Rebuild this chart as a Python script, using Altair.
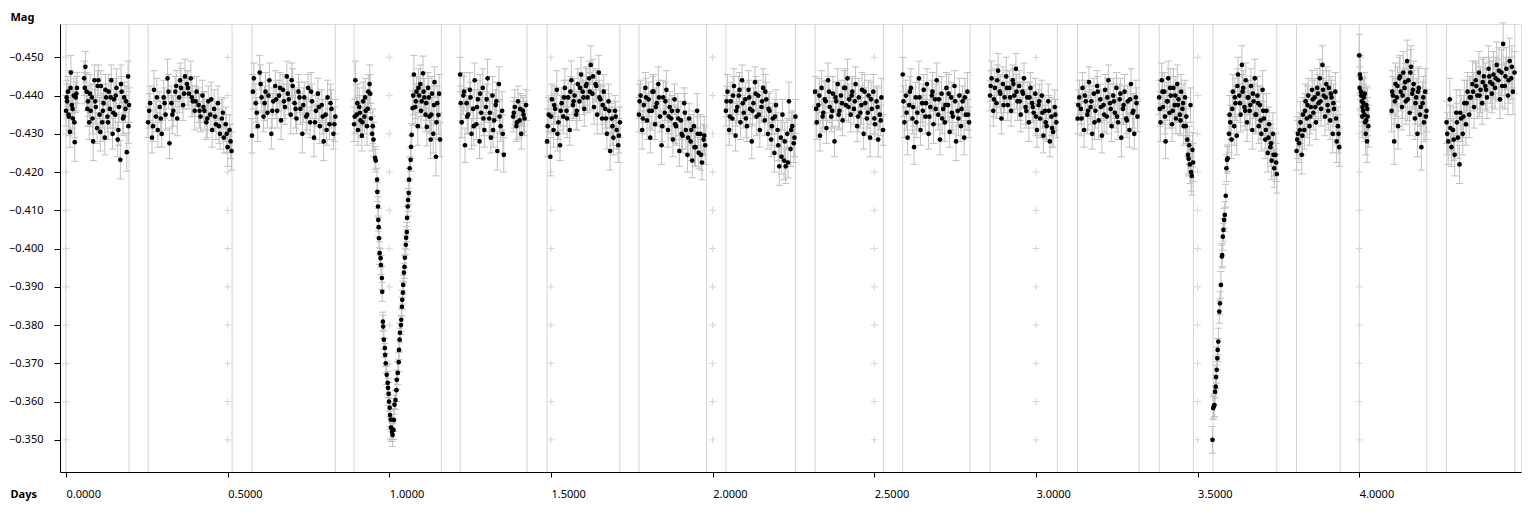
import altair as alt
import pandas as pd

# ---------------- data ----------------
# observation time (days), magnitude, error (mmag); one block per night
DAYS = [
    # night 1
    0.000,0.003,0.006,0.009,0.012,0.015,0.018,0.021,0.024,0.027,0.030,0.034,
    0.056,0.060,0.064,0.068,0.072,0.076,0.080,0.084,0.088,0.092,0.096,0.100,
    0.104,0.108,0.112,0.116,0.120,0.124,0.128,0.132,0.136,0.140,0.144,0.148,
    0.152,0.156,0.160,0.164,0.168,0.172,0.176,0.180,0.184,0.188,0.192,0.195,
    # night 2
    0.254,0.260,0.266,0.272,0.278,0.284,0.290,0.296,0.302,0.308,0.314,0.320,
    0.326,0.332,0.338,0.344,0.350,0.356,0.362,0.368,0.374,0.380,0.386,0.392,
    0.398,0.404,0.410,0.416,0.422,0.428,0.434,0.440,0.446,0.452,0.458,0.464,
    0.470,0.476,0.482,0.488,0.494,0.500,0.506,0.512,
    # night 3
    0.575,0.581,0.587,0.593,0.599,0.605,0.611,0.617,0.623,0.629,0.635,0.641,
    0.647,0.653,0.659,0.665,0.671,0.677,0.683,0.689,0.695,0.701,0.707,0.713,
    0.719,0.725,0.731,0.737,0.743,0.749,0.755,0.761,0.767,0.773,0.779,0.785,
    0.791,0.797,0.803,0.809,0.815,0.821,0.827,0.833,
    # night 4 (primary eclipse)
    0.891,0.895,0.899,0.903,0.907,0.911,0.915,0.919,0.923,0.927,0.931,0.935,
    0.939,0.943,0.947,0.951,
    0.956,0.958,0.962,0.963,0.965,0.966,0.967,0.968,0.970,0.973,0.974,0.977,
    0.978,0.980,0.981,0.983,0.986,0.987,0.989,0.992,0.995,0.996,0.998,0.999,
    1.001,1.002,1.004,1.005,1.008,1.010,1.013,1.014,1.016,1.019,1.022,1.023,
    1.026,1.029,1.030,1.032,1.033,1.036,1.037,1.039,1.040,1.042,1.043,1.045,
    1.047,1.048,1.051,1.052,1.054,1.055,1.057,1.058,1.060,1.061,1.063,1.066,
    1.067,1.069,
    1.072,1.076,1.080,1.084,1.088,1.092,1.096,1.100,1.104,1.108,1.112,1.116,
    1.120,1.124,1.128,1.132,1.136,1.140,1.144,1.148,1.152,1.157,
    # night 5
    1.219,1.224,1.229,1.234,1.239,1.244,1.249,1.254,1.259,1.264,1.269,1.274,
    1.279,1.284,1.289,1.294,1.299,1.304,1.309,1.314,1.319,1.324,1.329,1.334,
    1.339,1.344,1.349,1.354,
    1.383,1.388,1.393,1.398,1.403,1.408,1.413,1.418,1.423,
    # night 6
    1.488,1.493,1.498,1.503,1.508,1.513,1.518,1.523,1.528,1.533,1.538,1.543,
    1.548,1.553,1.558,1.563,1.568,1.573,1.578,1.583,1.588,1.593,1.598,1.603,
    1.608,1.613,1.618,1.623,1.628,1.633,1.638,1.643,1.648,1.653,1.658,1.663,
    1.668,1.673,1.678,1.683,1.688,1.693,1.698,1.703,1.708,1.713,
    # night 7
    1.772,1.777,1.782,1.787,1.792,1.797,1.802,1.807,1.812,1.817,1.822,1.827,
    1.832,1.837,1.842,1.847,1.852,1.857,1.862,1.867,1.872,1.877,1.882,1.887,
    1.892,1.897,1.902,1.907,1.912,1.917,1.922,1.927,1.932,1.937,1.942,1.947,
    1.952,1.957,1.962,1.967,1.972,1.977,
    # night 8
    2.041,2.046,2.051,2.056,2.061,2.066,2.071,2.076,2.081,2.086,2.091,2.096,
    2.101,2.106,2.111,2.116,2.121,2.126,2.131,2.136,2.141,2.146,2.151,2.156,
    2.161,2.166,2.171,2.176,2.181,2.186,2.191,2.196,2.201,2.206,2.211,2.216,
    2.221,2.226,2.231,2.236,2.241,2.246,2.251,2.256,
    # night 9
    2.317,2.322,2.327,2.332,2.337,2.342,2.347,2.352,2.357,2.362,2.367,2.372,
    2.377,2.382,2.387,2.392,2.397,2.402,2.407,2.412,2.417,2.422,2.427,2.432,
    2.437,2.442,2.447,2.452,2.457,2.462,2.467,2.472,2.477,2.482,2.487,2.492,
    2.497,2.502,2.507,2.512,2.517,2.522,2.527,
    # night 10
    2.588,2.593,2.598,2.603,2.608,2.613,2.618,2.623,2.628,2.633,2.638,2.643,
    2.648,2.653,2.658,2.663,2.668,2.673,2.678,2.683,2.688,2.693,2.698,2.703,
    2.708,2.713,2.718,2.723,2.728,2.733,2.738,2.743,2.748,2.753,2.758,2.763,
    2.768,2.773,2.778,2.783,2.788,2.793,
    # night 11
    2.858,2.863,2.868,2.873,2.878,2.883,2.888,2.893,2.898,2.903,2.908,2.913,
    2.918,2.923,2.928,2.933,2.938,2.943,2.948,2.953,2.958,2.963,2.968,2.973,
    2.978,2.983,2.988,2.993,2.998,3.003,3.008,3.013,3.018,3.023,3.028,3.033,
    3.038,3.043,3.048,3.053,3.058,3.063,
    # night 12
    3.129,3.134,3.139,3.144,3.149,3.154,3.159,3.164,3.169,3.174,3.179,3.184,
    3.189,3.194,3.199,3.204,3.209,3.214,3.219,3.224,3.229,3.234,3.239,3.244,
    3.249,3.254,3.259,3.264,3.269,3.274,3.279,3.284,3.289,3.294,3.299,3.304,
    3.309,3.314,
    # night 13 (ingress at the end)
    3.381,3.385,3.389,3.393,3.397,3.401,3.405,3.409,3.413,3.417,3.421,3.425,
    3.429,3.433,3.437,3.441,3.445,3.449,3.453,3.457,3.461,3.465,
    3.468,3.470,3.472,3.474,3.476,3.478,3.480,3.482,3.484,3.486,
    # night 14 (egress at the start)
    3.546,3.548,3.550,3.552,3.554,3.556,3.557,3.559,3.561,3.562,3.564,3.567,
    3.569,3.572,3.575,3.576,3.578,3.580,3.582,3.584,3.587,3.589,3.591,3.593,
    3.597,3.601,3.605,3.609,3.613,3.617,3.621,3.625,3.629,3.633,3.637,3.641,
    3.645,3.649,3.653,3.657,3.661,3.665,3.669,3.673,3.677,3.681,3.685,3.689,
    3.693,3.697,3.701,3.705,3.709,3.713,3.717,3.721,3.725,3.729,3.733,3.737,
    3.741,3.745,
    # night 15
    3.806,3.810,3.814,3.818,3.822,3.826,3.830,3.834,3.838,3.842,3.846,3.850,
    3.854,3.858,3.862,3.866,3.870,3.874,3.878,3.882,3.886,3.890,3.894,3.898,
    3.902,3.906,3.910,3.914,3.918,3.922,3.926,3.930,3.934,3.938,
    # night 16
    4.000,4.002,4.004,4.006,4.008,4.010,4.012,4.014,4.016,4.018,4.020,4.022,
    4.024,4.026,4.028,
    4.100,4.104,4.108,4.112,4.116,4.120,4.124,4.128,4.132,4.136,4.140,4.144,
    4.148,4.152,4.156,4.160,4.164,4.168,4.172,4.176,4.180,4.184,4.188,4.192,
    4.196,4.200,4.204,4.208,
    # night 17
    4.270,4.275,4.280,4.285,4.290,4.295,4.300,4.305,4.310,4.315,4.320,4.325,
    4.330,4.335,4.340,4.345,4.350,4.355,4.360,4.365,4.370,4.375,4.380,4.385,
    4.390,4.395,4.400,4.405,4.410,4.415,4.420,4.425,4.430,4.435,4.440,4.445,
    4.450,4.455,4.460,4.465,4.470,4.475,4.480,
]

MAG = [
    # night 1
    -0.4360,-0.4385,-0.4410,-0.4345,-0.4305,-0.4460,-0.4375,-0.4340,-0.4400,-0.4278,-0.4395,-0.4420,
    -0.4445,-0.4475,-0.4410,-0.4385,-0.4330,-0.4360,-0.4395,-0.4280,-0.4440,-0.4370,-0.4315,-0.4440,
    -0.4350,-0.4425,-0.4330,-0.4380,-0.4290,-0.4395,-0.4345,-0.4410,-0.4365,-0.4440,-0.4300,-0.4390,
    -0.4350,-0.4420,-0.4285,-0.4370,-0.4232,-0.4410,-0.4340,-0.4395,-0.4365,-0.4252,-0.4450,-0.4375,
    # night 2
    -0.4330,-0.4380,-0.4290,-0.4415,-0.4345,-0.4310,-0.4370,-0.4300,-0.4395,-0.4350,-0.4445,-0.4275,
    -0.4380,-0.4360,-0.4410,-0.4340,-0.4395,-0.4420,-0.4375,-0.4450,-0.4430,-0.4405,-0.4445,-0.4385,
    -0.4360,-0.4410,-0.4375,-0.4345,-0.4400,-0.4360,-0.4330,-0.4385,-0.4350,-0.4310,-0.4365,-0.4325,
    -0.4380,-0.4300,-0.4340,-0.4290,-0.4325,-0.4265,-0.4310,-0.4255,
    # night 3
    -0.4295,-0.4445,-0.4380,-0.4320,-0.4460,-0.4395,-0.4345,-0.4410,-0.4355,-0.4440,-0.4300,-0.4385,
    -0.4425,-0.4360,-0.4400,-0.4335,-0.4415,-0.4370,-0.4450,-0.4390,-0.4350,-0.4425,-0.4380,-0.4340,
    -0.4410,-0.4365,-0.4300,-0.4395,-0.4345,-0.4420,-0.4330,-0.4385,-0.4290,-0.4360,-0.4405,-0.4320,
    -0.4375,-0.4280,-0.4350,-0.4395,-0.4325,-0.4365,-0.4300,-0.4345,
    # night 4
    -0.4325,-0.4440,-0.4350,-0.4310,-0.4370,-0.4335,-0.4295,-0.4385,-0.4345,-0.4360,-0.4320,-0.4410,
    -0.4430,-0.4340,-0.4300,-0.4285,
    -0.4237,-0.4230,-0.4180,-0.4148,-0.4110,-0.4075,-0.4056,-0.4027,-0.3988,-0.3975,-0.3957,-0.3923,
    -0.3887,-0.3809,-0.3796,-0.3762,-0.3740,-0.3722,-0.3700,-0.3670,-0.3649,-0.3636,-0.3620,-0.3600,
    -0.3584,-0.3565,-0.3553,-0.3532,-0.3521,-0.3513,-0.3526,-0.3552,-0.3592,-0.3604,-0.3630,-0.3657,
    -0.3675,-0.3703,-0.3735,-0.3762,-0.3780,-0.3800,-0.3814,-0.3848,-0.3866,-0.3885,-0.3905,-0.3937,
    -0.3952,-0.3976,-0.4010,-0.4028,-0.4043,-0.4080,-0.4110,-0.4127,-0.4145,-0.4180,-0.4210,-0.4232,
    -0.4266,-0.4297,
    -0.4367,-0.4455,-0.4370,-0.4410,-0.4320,-0.4400,-0.4430,-0.4385,-0.4458,-0.4395,-0.4350,-0.4318,
    -0.4420,-0.4345,-0.4285,-0.4405,-0.4300,-0.4435,-0.4240,-0.4380,-0.4349,-0.4285,
    # night 5
    -0.4455,-0.4330,-0.4400,-0.4270,-0.4380,-0.4350,-0.4415,-0.4300,-0.4365,-0.4440,-0.4325,-0.4390,
    -0.4280,-0.4355,-0.4420,-0.4310,-0.4370,-0.4445,-0.4340,-0.4290,-0.4400,-0.4335,-0.4375,-0.4255,
    -0.4430,-0.4320,-0.4360,-0.4245,
    -0.4345,-0.4370,-0.4320,-0.4385,-0.4335,-0.4300,-0.4360,-0.4340,-0.4375,
    # night 6
    -0.4280,-0.4350,-0.4240,-0.4390,-0.4310,-0.4365,-0.4415,-0.4330,-0.4270,-0.4380,-0.4345,-0.4420,
    -0.4360,-0.4395,-0.4310,-0.4440,-0.4375,-0.4400,-0.4350,-0.4430,-0.4385,-0.4455,-0.4410,-0.4365,
    -0.4425,-0.4395,-0.4445,-0.4480,-0.4405,-0.4370,-0.4430,-0.4350,-0.4460,-0.4390,-0.4340,-0.4410,
    -0.4365,-0.4300,-0.4385,-0.4255,-0.4340,-0.4290,-0.4360,-0.4310,-0.4270,-0.4330,
    # night 7
    -0.4350,-0.4400,-0.4310,-0.4375,-0.4420,-0.4335,-0.4390,-0.4290,-0.4360,-0.4410,-0.4325,-0.4380,
    -0.4430,-0.4345,-0.4270,-0.4395,-0.4355,-0.4415,-0.4310,-0.4370,-0.4340,-0.4285,-0.4390,-0.4320,
    -0.4360,-0.4255,-0.4335,-0.4295,-0.4380,-0.4310,-0.4245,-0.4340,-0.4280,-0.4230,-0.4320,-0.4265,
    -0.4360,-0.4250,-0.4300,-0.4225,-0.4285,-0.4270,
    # night 8
    -0.4360,-0.4410,-0.4310,-0.4385,-0.4340,-0.4425,-0.4295,-0.4370,-0.4400,-0.4330,-0.4440,-0.4355,
    -0.4390,-0.4320,-0.4415,-0.4365,-0.4280,-0.4380,-0.4435,-0.4345,-0.4400,-0.4310,-0.4370,-0.4420,
    -0.4335,-0.4390,-0.4300,-0.4360,-0.4285,-0.4340,-0.4250,-0.4375,-0.4310,-0.4215,-0.4290,-0.4350,
    -0.4230,-0.4215,-0.4300,-0.4385,-0.4260,-0.4320,-0.4275,-0.4345,
    # night 9
    -0.4410,-0.4330,-0.4375,-0.4295,-0.4420,-0.4355,-0.4390,-0.4315,-0.4440,-0.4370,-0.4345,-0.4405,
    -0.4280,-0.4385,-0.4430,-0.4360,-0.4400,-0.4335,-0.4420,-0.4375,-0.4445,-0.4390,-0.4350,-0.4410,
    -0.4365,-0.4430,-0.4320,-0.4395,-0.4355,-0.4415,-0.4300,-0.4380,-0.4340,-0.4400,-0.4290,-0.4365,
    -0.4410,-0.4325,-0.4385,-0.4285,-0.4350,-0.4395,-0.4310,
    # night 10
    -0.4455,-0.4330,-0.4400,-0.4290,-0.4375,-0.4420,-0.4340,-0.4265,-0.4395,-0.4355,-0.4445,-0.4310,
    -0.4380,-0.4415,-0.4345,-0.4430,-0.4300,-0.4370,-0.4400,-0.4325,-0.4390,-0.4440,-0.4350,-0.4285,
    -0.4405,-0.4365,-0.4330,-0.4420,-0.4375,-0.4305,-0.4395,-0.4345,-0.4425,-0.4280,-0.4360,-0.4400,
    -0.4320,-0.4385,-0.4290,-0.4350,-0.4410,-0.4330,
    # night 11
    -0.4400,-0.4445,-0.4360,-0.4420,-0.4380,-0.4465,-0.4410,-0.4340,-0.4430,-0.4395,-0.4450,-0.4375,
    -0.4420,-0.4360,-0.4440,-0.4400,-0.4470,-0.4385,-0.4425,-0.4350,-0.4410,-0.4445,-0.4370,-0.4395,
    -0.4330,-0.4420,-0.4380,-0.4355,-0.4405,-0.4310,-0.4375,-0.4340,-0.4400,-0.4295,-0.4360,-0.4320,
    -0.4385,-0.4280,-0.4345,-0.4305,-0.4370,-0.4330,
    # night 12
    -0.4340,-0.4395,-0.4365,-0.4420,-0.4310,-0.4385,-0.4350,-0.4435,-0.4370,-0.4300,-0.4405,-0.4360,
    -0.4425,-0.4335,-0.4390,-0.4295,-0.4375,-0.4415,-0.4345,-0.4440,-0.4380,-0.4320,-0.4400,-0.4355,
    -0.4420,-0.4330,-0.4390,-0.4290,-0.4365,-0.4410,-0.4340,-0.4385,-0.4310,-0.4430,-0.4355,-0.4300,
    -0.4395,-0.4345,
    # night 13
    -0.4395,-0.4330,-0.4440,-0.4370,-0.4410,-0.4280,-0.4385,-0.4445,-0.4355,-0.4400,-0.4325,-0.4420,
    -0.4375,-0.4340,-0.4430,-0.4390,-0.4350,-0.4410,-0.4365,-0.4320,-0.4395,-0.4345,
    -0.4285,-0.4245,-0.4235,-0.4270,-0.4220,-0.4375,-0.4200,-0.4190,-0.4258,-0.4225,
    # night 14
    -0.3500,-0.3583,-0.3587,-0.3591,-0.3626,-0.3639,-0.3664,-0.3683,-0.3713,-0.3735,-0.3757,-0.3835,
    -0.3857,-0.3905,-0.3979,-0.3983,-0.4031,-0.4049,-0.4075,-0.4088,-0.4138,-0.4210,-0.4232,-0.4236,
    -0.4300,-0.4330,-0.4285,-0.4410,-0.4320,-0.4380,-0.4295,-0.4455,-0.4400,-0.4350,-0.4480,-0.4420,
    -0.4370,-0.4440,-0.4330,-0.4395,-0.4360,-0.4425,-0.4310,-0.4385,-0.4445,-0.4350,-0.4400,-0.4320,
    -0.4375,-0.4300,-0.4415,-0.4340,-0.4285,-0.4360,-0.4250,-0.4325,-0.4265,-0.4230,-0.4300,-0.4210,
    -0.4245,-0.4195,
    # night 15
    -0.4255,-0.4300,-0.4275,-0.4330,-0.4245,-0.4350,-0.4310,-0.4385,-0.4340,-0.4400,-0.4320,-0.4370,
    -0.4415,-0.4355,-0.4395,-0.4330,-0.4420,-0.4380,-0.4445,-0.4365,-0.4480,-0.4400,-0.4345,-0.4430,
    -0.4375,-0.4420,-0.4335,-0.4395,-0.4300,-0.4365,-0.4410,-0.4280,-0.4320,-0.4265,
    # night 16
    -0.4505,-0.4455,-0.4445,-0.4400,-0.4385,-0.4370,-0.4360,-0.4395,-0.4350,-0.4330,-0.4300,-0.4375,
    -0.4280,-0.4345,-0.4320,
    -0.4360,-0.4400,-0.4280,-0.4430,-0.4395,-0.4320,-0.4445,-0.4410,-0.4370,-0.4460,-0.4420,-0.4385,
    -0.4490,-0.4440,-0.4355,-0.4475,-0.4405,-0.4430,-0.4340,-0.4395,-0.4300,-0.4420,-0.4350,-0.4265,
    -0.4380,-0.4330,-0.4410,-0.4360,
    # night 17
    -0.4330,-0.4280,-0.4390,-0.4265,-0.4310,-0.4245,-0.4355,-0.4290,-0.4220,-0.4340,-0.4300,-0.4380,
    -0.4325,-0.4410,-0.4350,-0.4395,-0.4430,-0.4370,-0.4440,-0.4400,-0.4460,-0.4415,-0.4380,-0.4450,
    -0.4425,-0.4395,-0.4470,-0.4435,-0.4405,-0.4455,-0.4420,-0.4480,-0.4440,-0.4390,-0.4460,-0.4535,
    -0.4425,-0.4470,-0.4400,-0.4490,-0.4445,-0.4410,-0.4460,
]

ERR_MMAG = [
    # night 1
    4,4.5,4,5,4,4.5,3.5,4,4.5,5,4,4,
    4.5,4,5,4,4.5,4,3.5,5,4,4.5,4,4,
    4.5,4,5,4,4.5,3.5,4,4.5,5,4,4,4.5,
    4,5,4.5,4,5,4,4.5,4,3.5,5,4,4.5,
    # night 2
    4,4.5,4,5,4,4.5,4,3.5,4.5,4,5,4,
    4.5,4,4,4.5,4,5,4,4.5,3.5,4,4.5,4,
    5,4,4.5,4,4,5,4.5,4,4,4.5,5,4,
    4.5,4,5,4,4.5,5,4,5,
    # night 3
    4.5,4,5,4,4.5,4,4,5,4,4.5,4,3.5,
    4,4.5,4,5,4,4.5,4,4,5,4.5,4,4,
    4.5,4,5,4,4.5,3.5,4,4.5,5,4,4,4.5,
    4,5,4,4.5,4,5,4,4.5,
    # night 4
    4.5,5,4.5,4,5,4.5,4,5,4.5,4,5,4.5,
    5,4,4.5,4.5,
    3,3,3,2.5,2.5,3,2.5,2.5,3,2.5,2.5,3,
    2.5,2.5,3,2.5,2.5,3,2.5,2.5,3,2.5,3,2.5,
    2.5,3,2.5,3,2.5,3,2.5,3,2.5,2.5,3,2.5,
    3,2.5,2.5,3,2.5,2.5,3,2.5,2.5,3,2.5,2.5,
    3,2.5,2.5,3,2.5,3,2.5,3,3,3,3,3,
    3,3,
    4.5,5,4.5,4,5,4.5,5,4,4.5,5,4.5,5,
    4,4.5,5,4.5,5,4,5,4.5,5,4.5,
    # night 5
    4.5,4,5,4.5,4,5,4.5,4,5,4.5,4,5,
    4.5,4,5,4.5,4,5,4.5,4,5,4.5,4,5,
    4.5,4,5,4.5,
    4,4.5,4,4,4.5,4,4,4.5,4,
    # night 6
    4,4.5,5,4,4.5,4,5,4.5,4,4,4.5,5,
    4,4.5,4,5,4,4.5,4,4,5,4.5,4,4.5,
    5,4,4.5,5,4,4.5,4,5,4.5,4,4,4.5,
    5,4,4.5,5,4,4.5,4,5,4.5,4,
    # night 7
    4.5,4,5,4.5,4,5,4.5,4,5,4.5,4,5,
    4.5,4,5,4.5,4,5,4.5,4,5,4.5,4,5,
    4.5,4,5,4.5,4,5,4.5,4,5,4.5,4,5,
    4.5,4,5,4.5,4,5,
    # night 8
    4,4.5,4,5,4,4.5,4,4,5,4.5,4,4,
    4.5,4,5,4,4.5,4,4,5,4,4.5,4,5,
    4,4.5,4,5,4.5,4,5,4,4.5,5,4.5,4,
    5,4.5,4,5,4.5,4,5,4.5,
    # night 9
    4,4.5,4,4,4.5,4,5,4,4.5,4,4,4.5,
    4,5,4,4.5,4,4,4.5,4,5,4,4.5,4,
    4,4.5,4,5,4,4.5,4,4,4.5,4,5,4,
    4.5,4,4,4.5,4,5,4,
    # night 10
    4.5,4,4,4.5,4,5,4,4.5,4,4,4.5,4,
    5,4,4.5,4,4,4.5,4,5,4,4.5,4,4,
    4.5,4,5,4,4.5,4,4,4.5,4,5,4,4.5,
    4,4,4.5,4,5,4,
    # night 11
    4,4.5,4,5,4,4.5,4,4,4.5,4,5,4,
    4.5,4,4,4.5,4,5,4,4.5,4,4,4.5,4,
    5,4,4.5,4,4,4.5,4,5,4,4.5,4,4,
    4.5,4,5,4,4.5,4,
    # night 12
    4,4.5,4,4,4.5,4,5,4,4.5,4,4,4.5,
    4,5,4,4.5,4,4,4.5,4,5,4,4.5,4,
    4,4.5,4,5,4,4.5,4,4,4.5,4,5,4,
    4.5,4,
    # night 13
    4.5,5,4.5,4,5,4.5,5,4.5,4,5,4.5,5,
    4.5,4,5,4.5,5,4.5,4,5,4.5,5,
    4.5,5,4.5,5,5,4.5,5,5,4.5,5,
    # night 14
    3.5,3,3,3,3.5,3,3,3.5,3,3,3.5,3,
    3,3.5,3,3,3.5,3,3,3.5,3,3.5,3.5,3.5,
    5,4.5,5,4.5,5,4.5,5,4.5,5,4.5,5,4.5,
    5,4.5,5,4.5,5,4.5,5,4.5,5,4.5,5,4.5,
    5,4.5,5,4.5,5,4.5,5,4.5,5,5,5.5,5,
    5.5,5,
    # night 15
    5,4.5,5,5.5,5,4.5,5,4.5,5,4.5,5,4.5,
    5,4.5,5,4.5,5,4.5,5,4.5,5,4.5,5,4.5,
    5,4.5,5,4.5,5,4.5,5,5.5,5,5,
    # night 16
    5.5,5,5.5,5,5.5,5,5.5,5,5.5,5,5.5,5,
    5.5,5,5.5,
    5.5,5,6,5.5,5,6,5.5,5,6,5.5,5,6,
    5.5,5,6,5.5,5,6,5.5,5,6,5.5,5,6,
    5.5,5,6,5.5,
    # night 17
    5.5,6,5.5,5,6,5.5,6,5.5,5,6,5.5,6,
    5.5,5,6,5.5,6,5.5,5,6,5.5,6,5.5,5,
    6,5.5,6,5.5,5,6,5.5,6,5.5,5,6,5.5,
    6,5.5,5,6,5.5,6,5.5,
]

# further observations taken between the ones above (denser sampling)
DAYS_EXTRA = [
    0.002,0.008,0.014,0.020,0.026,0.032,
    0.058,0.066,0.074,0.082,0.090,0.098,0.106,0.114,0.122,0.130,0.138,0.146,
    0.154,0.162,0.170,0.178,0.186,0.193,
    0.257,0.269,0.281,0.293,0.305,0.317,0.329,0.341,0.353,0.365,0.377,0.389,
    0.401,0.413,0.425,0.437,0.449,0.461,0.473,0.485,0.497,0.509,
    0.578,0.590,0.602,0.614,0.626,0.638,0.650,0.662,0.674,0.686,0.698,0.710,
    0.722,0.734,0.746,0.758,0.770,0.782,0.794,0.806,0.818,0.830,
    0.893,0.901,0.909,0.917,0.925,0.933,0.941,0.949,
    1.074,1.082,1.090,1.098,1.106,1.114,1.122,1.130,1.138,1.146,1.154,
    1.221,1.231,1.241,1.251,1.261,1.271,1.281,1.291,1.301,1.311,1.321,1.331,
    1.341,1.351,1.385,1.395,1.405,1.415,
    1.490,1.500,1.510,1.520,1.530,1.540,1.550,1.560,1.570,1.580,1.590,1.600,
    1.610,1.620,1.630,1.640,1.650,1.660,1.670,1.680,1.690,1.700,1.710,
    1.774,1.784,1.794,1.804,1.814,1.824,1.834,1.844,1.854,1.864,1.874,1.884,
    1.894,1.904,1.914,1.924,1.934,1.944,1.954,1.964,1.974,
    2.043,2.053,2.063,2.073,2.083,2.093,2.103,2.113,2.123,2.133,2.143,2.153,
    2.163,2.173,2.183,2.193,2.203,2.213,2.223,2.233,2.243,2.253,
    2.320,2.330,2.340,2.350,2.360,2.370,2.380,2.390,2.400,2.410,2.420,2.430,
    2.440,2.450,2.460,2.470,2.480,2.490,2.500,2.510,2.520,
    2.590,2.600,2.610,2.620,2.630,2.640,2.650,2.660,2.670,2.680,2.690,2.700,
    2.710,2.720,2.730,2.740,2.750,2.760,2.770,2.780,2.790,
    2.860,2.870,2.880,2.890,2.900,2.910,2.920,2.930,2.940,2.950,2.960,2.970,
    2.980,2.990,3.000,3.010,3.020,3.030,3.040,3.050,3.060,
    3.131,3.141,3.151,3.161,3.171,3.181,3.191,3.201,3.211,3.221,3.231,3.241,
    3.251,3.261,3.271,3.281,3.291,3.301,3.311,
    3.383,3.391,3.399,3.407,3.415,3.423,3.431,3.439,3.447,3.455,3.463,
    3.599,3.607,3.615,3.623,3.631,3.639,3.647,3.655,3.663,3.671,3.679,3.687,
    3.695,3.703,3.711,3.719,3.727,3.735,3.743,
    3.808,3.816,3.824,3.832,3.840,3.848,3.856,3.864,3.872,3.880,3.888,3.896,
    3.904,3.912,3.920,3.928,3.936,
    4.001,4.005,4.009,4.013,4.017,4.021,4.025,
    4.102,4.110,4.118,4.126,4.134,4.142,4.150,4.158,4.166,4.174,4.182,4.190,
    4.198,4.206,
    4.272,4.282,4.292,4.302,4.312,4.322,4.332,4.342,4.352,4.362,4.372,4.382,
    4.392,4.402,4.412,4.422,4.432,4.442,4.452,4.462,4.472,
]

MAG_EXTRA = [
    -0.4395,-0.4350,-0.4420,-0.4365,-0.4330,-0.4405,
    -0.4420,-0.4365,-0.4405,-0.4340,-0.4385,-0.4425,-0.4305,-0.4360,-0.4415,-0.4330,-0.4395,-0.4355,
    -0.4400,-0.4310,-0.4430,-0.4345,-0.4385,-0.4320,
    -0.4360,-0.4320,-0.4395,-0.4340,-0.4380,-0.4410,-0.4350,-0.4425,-0.4440,-0.4405,-0.4420,-0.4395,
    -0.4385,-0.4360,-0.4370,-0.4340,-0.4390,-0.4345,-0.4320,-0.4355,-0.4300,-0.4280,
    -0.4410,-0.4355,-0.4430,-0.4380,-0.4400,-0.4360,-0.4390,-0.4420,-0.4385,-0.4405,-0.4440,-0.4365,
    -0.4395,-0.4375,-0.4350,-0.4410,-0.4330,-0.4370,-0.4345,-0.4310,-0.4380,-0.4325,
    -0.4345,-0.4380,-0.4355,-0.4330,-0.4395,-0.4365,-0.4405,-0.4320,
    -0.4400,-0.4385,-0.4420,-0.4360,-0.4410,-0.4380,-0.4395,-0.4350,-0.4375,-0.4330,-0.4405,
    -0.4380,-0.4410,-0.4345,-0.4395,-0.4320,-0.4370,-0.4405,-0.4340,-0.4390,-0.4355,-0.4310,-0.4385,
    -0.4345,-0.4300,-0.4355,-0.4330,-0.4365,-0.4350,
    -0.4320,-0.4345,-0.4375,-0.4300,-0.4360,-0.4395,-0.4340,-0.4410,-0.4385,-0.4360,-0.4420,-0.4395,
    -0.4430,-0.4410,-0.4450,-0.4425,-0.4395,-0.4375,-0.4340,-0.4360,-0.4320,-0.4345,-0.4295,
    -0.4385,-0.4340,-0.4395,-0.4360,-0.4410,-0.4370,-0.4395,-0.4320,-0.4385,-0.4345,-0.4360,-0.4325,
    -0.4340,-0.4300,-0.4355,-0.4290,-0.4310,-0.4265,-0.4300,-0.4245,-0.4295,
    -0.4385,-0.4345,-0.4400,-0.4360,-0.4415,-0.4380,-0.4340,-0.4395,-0.4360,-0.4405,-0.4350,-0.4385,
    -0.4410,-0.4365,-0.4320,-0.4345,-0.4270,-0.4240,-0.4280,-0.4225,-0.4310,-0.4290,
    -0.4365,-0.4400,-0.4345,-0.4385,-0.4410,-0.4360,-0.4395,-0.4350,-0.4380,-0.4420,-0.4370,-0.4400,
    -0.4385,-0.4345,-0.4375,-0.4410,-0.4355,-0.4390,-0.4340,-0.4370,-0.4335,
    -0.4385,-0.4355,-0.4410,-0.4370,-0.4330,-0.4395,-0.4360,-0.4380,-0.4345,-0.4410,-0.4365,-0.4390,
    -0.4340,-0.4375,-0.4405,-0.4355,-0.4385,-0.4340,-0.4365,-0.4395,-0.4350,
    -0.4425,-0.4390,-0.4440,-0.4405,-0.4375,-0.4420,-0.4395,-0.4430,-0.4410,-0.4385,-0.4405,-0.4360,
    -0.4395,-0.4370,-0.4345,-0.4385,-0.4355,-0.4330,-0.4360,-0.4315,-0.4350,
    -0.4375,-0.4340,-0.4400,-0.4360,-0.4385,-0.4330,-0.4410,-0.4370,-0.4350,-0.4395,-0.4365,-0.4385,
    -0.4345,-0.4405,-0.4375,-0.4335,-0.4390,-0.4360,-0.4380,
    -0.4365,-0.4410,-0.4345,-0.4385,-0.4420,-0.4360,-0.4400,-0.4375,-0.4335,-0.4380,-0.4320,
    -0.4350,-0.4365,-0.4395,-0.4425,-0.4380,-0.4410,-0.4360,-0.4395,-0.4375,-0.4405,-0.4350,-0.4380,
    -0.4335,-0.4360,-0.4310,-0.4290,-0.4275,-0.4245,-0.4225,
    -0.4285,-0.4310,-0.4295,-0.4360,-0.4375,-0.4345,-0.4390,-0.4370,-0.4405,-0.4385,-0.4415,-0.4395,
    -0.4360,-0.4405,-0.4380,-0.4340,-0.4300,
    -0.4420,-0.4410,-0.4345,-0.4380,-0.4405,-0.4335,-0.4365,
    -0.4410,-0.4385,-0.4425,-0.4450,-0.4400,-0.4435,-0.4390,-0.4460,-0.4415,-0.4380,-0.4410,-0.4370,
    -0.4395,-0.4345,
    -0.4300,-0.4315,-0.4285,-0.4330,-0.4355,-0.4345,-0.4380,-0.4395,-0.4410,-0.4425,-0.4400,-0.4435,
    -0.4415,-0.4450,-0.4430,-0.4445,-0.4465,-0.4425,-0.4450,-0.4440,-0.4475,
]

ERR_EXTRA_MMAG = [
    4.5,4,4.5,5,4,4.5,
    4,4.5,5,4,4.5,4,5,4.5,4,4.5,5,4,
    4.5,4,5,4.5,4,4.5,
    4.5,4,5,4.5,4,4.5,5,4,4.5,4,4.5,5,
    4,4.5,4,5,4.5,4,4.5,4,5,4.5,
    4.5,4,5,4.5,4,4.5,5,4,4.5,4,4.5,5,
    4,4.5,4,5,4.5,4,4.5,4,5,4.5,
    4.5,5,4.5,4,5,4.5,5,4.5,
    5,4.5,5,4.5,5,4.5,5,4.5,5,4.5,5,
    4.5,5,4.5,4,5,4.5,5,4.5,4,5,4.5,5,
    4.5,5,4,4.5,4,4.5,
    4.5,4,5,4.5,4,4.5,5,4,4.5,5,4,4.5,
    4,5,4.5,4,4.5,5,4,4.5,5,4,4.5,
    4.5,4,5,4.5,4,5,4.5,4,5,4.5,4,5,
    4.5,4,5,4.5,4,5,4.5,4,5,
    4,4.5,5,4,4.5,4,5,4.5,4,4.5,5,4,
    4.5,4,5,4.5,4,4.5,5,4,4.5,5,
    4,4.5,4,5,4,4.5,4,4,4.5,5,4,4.5,
    4,4,5,4.5,4,4.5,4,5,4,
    4,4.5,4,5,4,4.5,4,4,4.5,5,4,4.5,
    4,4,5,4.5,4,4.5,4,5,4,
    4,4.5,4,5,4,4.5,4,4,4.5,5,4,4.5,
    4,4,5,4.5,4,4.5,4,5,4,
    4,4.5,4,5,4,4.5,4,4,4.5,5,4,4.5,
    4,4,5,4.5,4,4.5,4,
    4.5,5,4.5,4,5,4.5,5,4.5,4,5,4.5,
    5,4.5,5,4.5,5,4.5,5,4.5,5,4.5,5,4.5,
    5,4.5,5,4.5,5,5.5,5,
    5,4.5,5,4.5,5,4.5,5,4.5,5,4.5,5,4.5,
    5,4.5,5,4.5,5,
    5.5,5,5.5,5,5.5,5,5.5,
    5.5,6,5,5.5,6,5,5.5,6,5,5.5,6,5,
    5.5,6,
    5.5,6,5.5,5,6,5.5,6,5.5,5,6,5.5,6,
    5.5,5,6,5.5,6,5.5,5,6,5.5,
]

# start / end of each observing night (grey vertical lines)
NIGHT_EDGES = [
    0.000, 0.195, 0.254, 0.5135, 0.575, 0.833, 0.891, 1.161, 1.219, 1.426,
    1.488, 1.713, 1.772, 1.981, 2.041, 2.256, 2.317, 2.528, 2.588, 2.796,
    2.858, 3.066, 3.129, 3.319, 3.381, 3.487, 3.548, 3.745, 3.806, 3.941,
    4.000, 4.2085, 4.270, 4.481,
]

X_TICKS = [0.0, 0.5, 1.0, 1.5, 2.0, 2.5, 3.0, 3.5, 4.0]
Y_TICKS = [-0.450, -0.440, -0.430, -0.420, -0.410, -0.400, -0.390,
           -0.380, -0.370, -0.360, -0.350]
X_DOMAIN = [-0.0186, 4.5002]
Y_DOMAIN = [-0.4587, -0.3416]

assert len(DAYS) == len(MAG) == len(ERR_MMAG), (len(DAYS), len(MAG), len(ERR_MMAG))
assert len(DAYS_EXTRA) == len(MAG_EXTRA) == len(ERR_EXTRA_MMAG), (
    len(DAYS_EXTRA), len(MAG_EXTRA), len(ERR_EXTRA_MMAG))

# ---------------- tables ----------------
obs = pd.DataFrame({
    "Days": DAYS + DAYS_EXTRA,
    "Mag": MAG + MAG_EXTRA,
    "Err": [e / 1000.0 for e in ERR_MMAG + ERR_EXTRA_MMAG],
})
obs["Lo"] = obs["Mag"] - obs["Err"]
obs["Hi"] = obs["Mag"] + obs["Err"]

edges = pd.DataFrame({"Days": NIGHT_EDGES})
crosses = pd.DataFrame([(x, y) for x in X_TICKS for y in Y_TICKS],
                       columns=["Days", "Mag"])

FONT = "Noto Sans"
xs = alt.Scale(domain=X_DOMAIN, nice=False, zero=False)
ys = alt.Scale(domain=Y_DOMAIN, nice=False, zero=False, reverse=True)

x_axis = alt.Axis(
    values=X_TICKS, format=".4f", title="Days", grid=False,
    labelAlign="left", labelBaseline="middle", labelPadding=17,
    labelFont=FONT, labelFontSize=11, labelColor="#000",
    labelFlush=False, labelOverlap=False,
    tickSize=5, tickColor="#000", domainColor="#000",
    titleFont=FONT, titleFontSize=11, titleFontWeight="bold", titleColor="#000",
    titleAngle=0, titleAlign="left", titleBaseline="middle",
    titleX=-50, titleY=22,
)
y_axis = alt.Axis(
    values=Y_TICKS, format=".3f", title="Mag", grid=False,
    labelPadding=11, labelFont=FONT, labelFontSize=11, labelColor="#000",
    labelOverlap=False, labelFlush=False,
    tickSize=6, tickColor="#000", domainColor="#000",
    titleFont=FONT, titleFontSize=11, titleFontWeight="bold", titleColor="#000",
    titleAngle=0, titleAlign="left", titleBaseline="middle",
    titleX=-50, titleY=-7,
)

X = alt.X("Days:Q", scale=xs, axis=x_axis)

night_lines = alt.Chart(edges).mark_rule(color="#d4d4d4", strokeWidth=1).encode(x=X)

grid_crosses = alt.Chart(crosses).mark_point(
    shape="M-1,0L1,0M0,-1L0,1", size=50, filled=False,
    color="#d6d6d6", strokeWidth=1, opacity=1,
).encode(x=X, y=alt.Y("Mag:Q", scale=ys, axis=y_axis))

err_bars = alt.Chart(obs).mark_rule(color="#c0c0c0", strokeWidth=1).encode(
    x=X, y=alt.Y("Lo:Q", scale=ys, axis=y_axis), y2="Hi:Q")

cap_lo = alt.Chart(obs).mark_tick(
    color="#c0c0c0", orient="horizontal", size=7, thickness=1, opacity=1
).encode(x=X, y=alt.Y("Lo:Q", scale=ys, axis=y_axis))

cap_hi = alt.Chart(obs).mark_tick(
    color="#c0c0c0", orient="horizontal", size=7, thickness=1, opacity=1
).encode(x=X, y=alt.Y("Hi:Q", scale=ys, axis=y_axis))

points = alt.Chart(obs).mark_point(
    shape="circle", filled=True, size=22, color="#000", opacity=1
).encode(x=X, y=alt.Y("Mag:Q", scale=ys, axis=y_axis))

chart = alt.layer(
    night_lines, grid_crosses, err_bars, cap_lo, cap_hi, points
).properties(
    width=1461, height=448,
    autosize=alt.AutoSizeParams(type="none"),
    padding={"left": 52, "top": 16, "right": 7, "bottom": 32},
).configure_view(stroke=None).configure(background="white")

chart.save("out.html", embed_options={"renderer": "svg", "actions": False})
